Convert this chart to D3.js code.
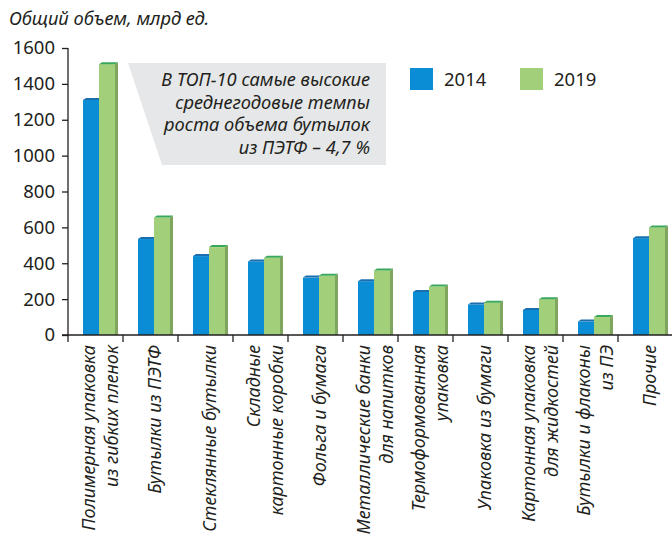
<!DOCTYPE html>
<html>
<head>
<meta charset="utf-8">
<script src="https://cdn.jsdelivr.net/npm/d3@7"></script>
<style>
  body { margin: 0; background: #fff; }
  svg { display: block; font-family: "Noto Sans", sans-serif; }
  .axis path, .axis line { stroke: #231f20; stroke-width: 1.3; }
</style>
</head>
<body>
<div id="chart"></div>
<script>
/* DATA */
const categories = [
  ["Полимерная упаковка", "из гибких пленок"],
  ["Бутылки из ПЭТФ"],
  ["Стеклянные бутылки"],
  ["Складные", "картонные коробки"],
  ["Фольга и бумага"],
  ["Металлические банки", "для напитков"],
  ["Термоформованная", "упаковка"],
  ["Упаковка из бумаги"],
  ["Картонная упаковка", "для жидкостей"],
  ["Бутылки и флаконы", "из ПЭ"],
  ["Прочие"]
];
const years = ["2014", "2019"];
const values2014 = [1310, 535, 440, 410, 320, 300, 240, 170, 140, 75, 540];
const values2019 = [1510, 655, 490, 430, 330, 360, 270, 180, 200, 100, 600];
const yTicks = [0, 200, 400, 600, 800, 1000, 1200, 1400, 1600];
const yTitle = "Общий объем, млрд ед.";
const note = ["В ТОП-10 самые высокие", "среднегодовые темпы", "роста объема бутылок", "из ПЭТФ – 4,7 %"];

/* CONSTANTS */
const width = 672, height = 541;
const margin = { top: 48, left: 68, bottom: 206 };
const colors = { "2014": "#0a8dd4", "2019": "#a2d07a" };
const topColors = { "2014": "#1b6fae", "2019": "#39a85a" };
const sideColor = "#7fa55f";
const depth = 3;

const rows = categories.map((c, i) => ({ key: c.join(" "), lines: c, "2014": values2014[i], "2019": values2019[i] }));

const svg = d3.select("#chart").append("svg")
  .attr("width", width)
  .attr("height", height);

// scales
const xScale = d3.scaleBand()
  .domain(rows.map(d => d.key))
  .range([margin.left, margin.left + 55 * rows.length]);

const xInner = d3.scaleBand()
  .domain(years)
  .range([15, 47]);

const yScale = d3.scaleLinear()
  .domain([0, 1600])
  .range([height - margin.bottom, margin.top]);

// title
svg.append("text")
  .attr("x", 9)
  .attr("y", 25)
  .attr("font-size", 18.3)
  .attr("font-style", "italic")
  .attr("fill", "#231f20")
  .text(yTitle);

// callout
const cy0 = 63, cy1 = 165;
svg.append("polygon")
  .attr("points", [[128, cy0], [386, cy0], [386, cy1], [162, cy1]].join(" "))
  .attr("fill", "#e6e7e8");

svg.append("g")
  .selectAll("text")
  .data(note)
  .join("text")
  .attr("x", 370)
  .attr("y", (d, i) => 86 + i * 22.7)
  .attr("text-anchor", "end")
  .attr("font-size", 18.3)
  .attr("font-style", "italic")
  .attr("fill", "#231f20")
  .text(d => d);

// legend
const legend = svg.append("g")
  .selectAll("g")
  .data(years)
  .join("g")
  .attr("transform", (d, i) => `translate(${410 + i * 110},68)`);
legend.append("rect")
  .attr("width", 23)
  .attr("height", 22)
  .attr("fill", d => colors[d]);
legend.append("text")
  .attr("x", 34)
  .attr("y", 18)
  .attr("font-size", 18.5)
  .attr("fill", "#231f20")
  .text(d => d);

// bars
const groups = svg.append("g")
  .selectAll("g")
  .data(rows)
  .join("g")
  .attr("transform", d => `translate(${xScale(d.key)},0)`);

years.forEach(yr => {
  const x0 = xInner(yr), w = xInner.bandwidth();
  const base = yScale(0);
  // side face
  groups.append("polygon")
    .attr("points", d => {
      const yt = yScale(d[yr]);
      return [[x0 + w, yt], [x0 + w + depth, yt - 2], [x0 + w + depth, base], [x0 + w, base]].join(" ");
    })
    .attr("fill", yr === "2019" ? sideColor : "#0a6fae");
  groups.append("rect")
    .attr("x", x0)
    .attr("y", d => yScale(d[yr]))
    .attr("width", w)
    .attr("height", d => base - yScale(d[yr]))
    .attr("fill", colors[yr]);
  // top face
  groups.append("polygon")
    .attr("points", d => {
      const yt = yScale(d[yr]);
      return [[x0, yt], [x0 + depth, yt - 2], [x0 + w + depth, yt - 2], [x0 + w, yt]].join(" ");
    })
    .attr("fill", topColors[yr]);
});

// y axis
svg.append("g")
  .attr("class", "axis")
  .attr("transform", `translate(${margin.left},0)`)
  .call(d3.axisLeft(yScale).tickValues(yTicks).tickFormat(d3.format("d")).tickSize(6).tickSizeOuter(0).tickPadding(7))
  .call(g => g.select(".domain").attr("d", `M0,${yScale(1600)}V${yScale(0) + 7}`))
  .call(g => g.selectAll("text")
    .attr("font-size", 18.5)
    .attr("font-family", "Noto Sans, sans-serif")
    .attr("fill", "#231f20"));

// x axis
const boundaries = d3.range(rows.length).map(i => xScale(rows[i].key));
const xAxis = svg.append("g")
  .attr("class", "axis")
  .attr("transform", `translate(0,${yScale(0)})`);
xAxis.append("line")
  .attr("x1", 62)
  .attr("x2", width)
  .attr("stroke", "#231f20")
  .attr("stroke-width", 1.3);
xAxis.selectAll(".tick")
  .data(boundaries.slice(1))
  .join("line")
  .attr("class", "tick")
  .attr("x1", d => d)
  .attr("x2", d => d)
  .attr("y1", 0)
  .attr("y2", 7)
  .attr("stroke", "#231f20")
  .attr("stroke-width", 1.3);

// category labels
const labels = svg.append("g")
  .selectAll("g")
  .data(rows)
  .join("g")
  .attr("transform", d => `translate(${xScale(d.key) + 32},${yScale(0) + 10}) rotate(-90)`);

labels.selectAll("text")
  .data(d => d.lines.map((t, i) => ({ t, off: (i - (d.lines.length - 1) / 2) * 23.5 })))
  .join("text")
  .attr("x", 0)
  .attr("y", d => d.off)
  .attr("dy", "0.35em")
  .attr("text-anchor", "end")
  .attr("font-size", 18)
  .attr("font-style", "italic")
  .attr("fill", "#231f20")
  .text(d => d.t);
</script>
</body>
</html>
